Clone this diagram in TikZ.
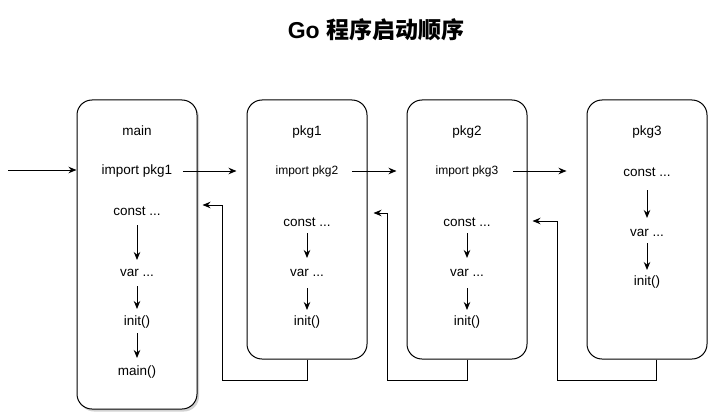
\documentclass[tikz,border=0pt]{standalone}
\usepackage{fontspec}
\setmainfont{Liberation Sans}
\newfontfamily\cjk{Noto Sans CJK SC}
\usetikzlibrary{arrows.meta,shadows}

\begin{document}
\begin{tikzpicture}[x=1pt, y=-1pt, line width=1pt,
    pkgbox/.style={draw, rounded corners=15pt, minimum width=120pt, inner sep=0},
    lbl/.style={inner sep=0, text height=10pt, text depth=3pt, font=\fontsize{13.5}{16}\selectfont},
    smalllbl/.style={lbl, font=\fontsize{12}{14}\selectfont},
    flow/.style={-{Stealth[length=8pt,width=6.5pt]}}]
    \useasboundingbox (0,0) rectangle (708,414);
    \node[font=\fontsize{23}{27}\selectfont\bfseries] (title) at (376,30) {Go {\cjk 程序启动顺序}};
    % boxes
    \node[pkgbox, minimum height=309pt, fill=white, drop shadow={shadow xshift=2pt, shadow yshift=-2.5pt, fill=black!35}] (mainbox) at (137,254.5) {};
    \node[pkgbox, minimum height=259pt] (pk1) at (307,229.5) {};
    \node[pkgbox, minimum height=259pt] (pk2) at (467,229.5) {};
    \node[pkgbox, minimum height=259pt] (pk3) at (647,229.5) {};
    % main
    \node[lbl] (m0) at (137,132) {main};
    \node[lbl] (mimp) at (137,171) {import pkg1};
    \node[lbl] (mc) at (137,212) {const ...};
    \node[lbl] (mv) at (137,273) {var ...};
    \node[lbl] (mi) at (137,322) {init()};
    \node[lbl] (mm) at (137,372) {main()};
    % pkg1
    \node[lbl] (a0) at (307,132) {pkg1};
    \node[smalllbl] (aimp) at (307,171) {import pkg2};
    \node[lbl] (ac) at (307,223) {const ...};
    \node[lbl] (av) at (307,273) {var ...};
    \node[lbl] (ai) at (307,322) {init()};
    % pkg2
    \node[lbl] (b0) at (467,132) {pkg2};
    \node[smalllbl] (bimp) at (467,171) {import pkg3};
    \node[lbl] (bc) at (467,223) {const ...};
    \node[lbl] (bv) at (467,273) {var ...};
    \node[lbl] (bi) at (467,322) {init()};
    % pkg3
    \node[lbl] (c0) at (647,132) {pkg3};
    \node[lbl] (cc) at (647,173) {const ...};
    \node[lbl] (cv) at (647,233) {var ...};
    \node[lbl] (ci) at (647,282) {init()};
    % order inside packages
    \draw[flow, shorten <=6pt, shorten >=6pt] (mc) -- (mv);
    \draw[flow, shorten <=6pt, shorten >=6pt] (mv) -- (mi);
    \draw[flow, shorten <=4pt, shorten >=7pt] (mi) -- (mm);
    \draw[flow, shorten <=3pt, shorten >=8pt] (ac) -- (av);
    \draw[flow, shorten <=8pt, shorten >=5pt] (av) -- (ai);
    \draw[flow, shorten <=3pt, shorten >=8pt] (bc) -- (bv);
    \draw[flow, shorten <=8pt, shorten >=5pt] (bv) -- (bi);
    \draw[flow, shorten <=10pt, shorten >=8pt] (cc) -- (cv);
    \draw[flow, shorten <=3pt, shorten >=5pt] (cv) -- (ci);
    % imports
    \coordinate (start) at (8,170);
    \draw[flow] (start) -- (mainbox.west |- start);
    \draw[flow, shorten <=10pt, shorten >=10pt] (mimp.east) -- (pk1.west |- mimp);
    \draw[flow, shorten <=13pt, shorten >=10pt] (aimp.east) -- (pk2.west |- aimp);
    \draw[flow, shorten <=14pt, shorten >=20pt] (bimp.east) -- (pk3.west |- bimp);
    % returns
    \coordinate (r1) at (222,205);
    \coordinate (r2) at (387,213);
    \coordinate (r3) at (557,221);
    \draw[flow, shorten >=5pt] (pk1.south) -- ++(0,21) -| (r1) -- (mainbox.east |- r1);
    \draw[flow, shorten >=6pt] (pk2.south) -- ++(0,21) -| (r2) -- (pk1.east |- r2);
    \draw[flow, shorten >=5pt] ([xshift=9pt]pk3.south) -- ++(0,21) -| (r3) -- (pk2.east |- r3);
\end{tikzpicture}
\end{document}
